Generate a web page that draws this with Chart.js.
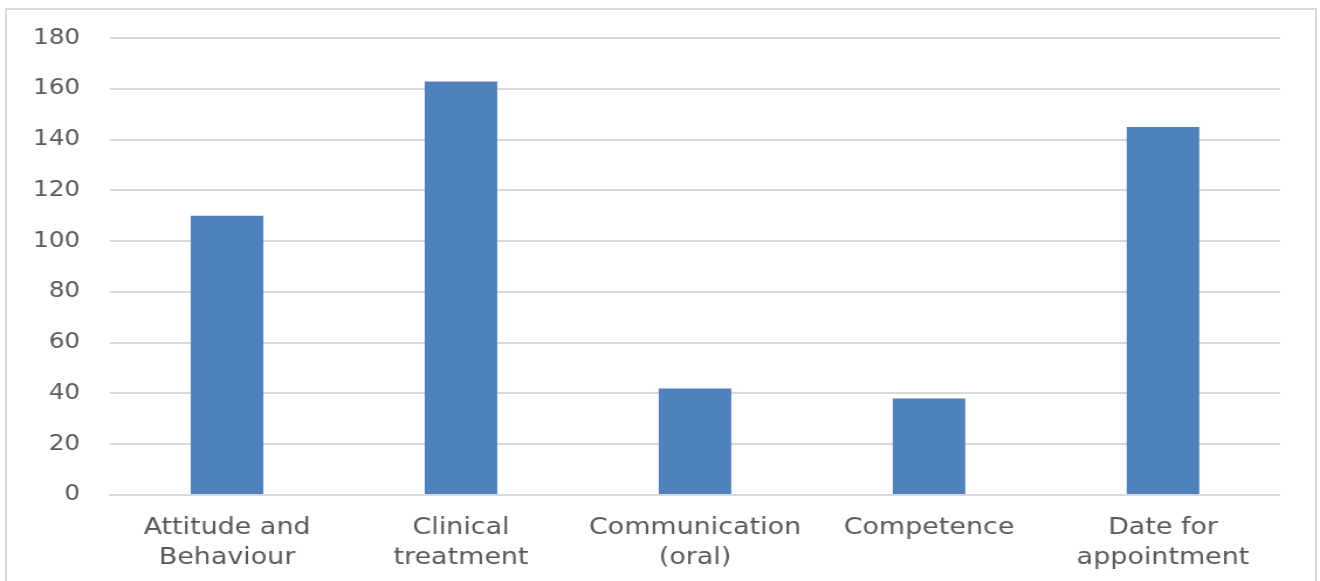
<!DOCTYPE html>
<html>
<head>
<meta charset="utf-8">
<script src="https://cdn.jsdelivr.net/npm/chart.js@4.4.1/dist/chart.umd.min.js"></script>
<style>
    html, body { margin: 0; padding: 0; background: #ffffff; }
    #frame {
        position: absolute;
        left: 5px; top: 8px;
        width: 1312px; height: 600px;
        border: 2px solid #d9d9d9;
        box-sizing: border-box;
    }
    #myChart { position: absolute; left: 0; top: 0; }
</style>
</head>
<body>
<div id="frame"></div>
<!-- the drawing buffer is narrower than the box, so text comes out a bit wide -->
<canvas id="myChart" width="1128" height="581" style="width: 1320px; height: 581px;"></canvas>
<script>
    var categories = [
        ['Attitude and', 'Behaviour'],
        ['Clinical', 'treatment'],
        ['Communication', '(oral)'],
        ['Competence'],
        ['Date for', 'appointment']
    ];
    var complaints = [110, 163, 42, 38, 145];

    // horizontal squeeze of the buffer vs. the css box
    var sx = 1128 / 1320;

    var data = {
        labels: categories,
        datasets: [{
            label: 'Complaints',
            data: complaints,
            backgroundColor: '#4f81bd',
            borderWidth: 0,
            categoryPercentage: 1,
            barPercentage: 0.31
        }]
    };

    var config = {
        type: 'bar',
        data: data,
        options: {
            responsive: false,
            animation: false,
            layout: {
                padding: { top: 34, right: 40 * sx, bottom: 0, left: 0 }
            },
            plugins: {
                legend: { display: false },
                tooltip: { enabled: false }
            },
            scales: {
                x: {
                    grid: { display: false, drawTicks: false },
                    border: { display: true, color: '#d9d9d9', width: 2 },
                    ticks: {
                        color: '#595959',
                        padding: 18,
                        maxRotation: 0,
                        autoSkip: false,
                        font: { family: 'DejaVu Sans', size: 23, lineHeight: 1.3 }
                    },
                    afterFit: function (scale) { scale.height = 86; }
                },
                y: {
                    min: 0,
                    max: 180,
                    grid: { color: '#d9d9d9', lineWidth: 2, drawTicks: false },
                    border: { display: false },
                    ticks: {
                        stepSize: 20,
                        color: '#595959',
                        padding: 30 * sx,
                        font: { family: 'DejaVu Sans', size: 21 }
                    },
                    afterFit: function (scale) { scale.width = 110 * sx; }
                }
            }
        }
    };

    var myChart = new Chart(
        document.getElementById('myChart').getContext('2d'),
        config
    );
</script>
</body>
</html>
